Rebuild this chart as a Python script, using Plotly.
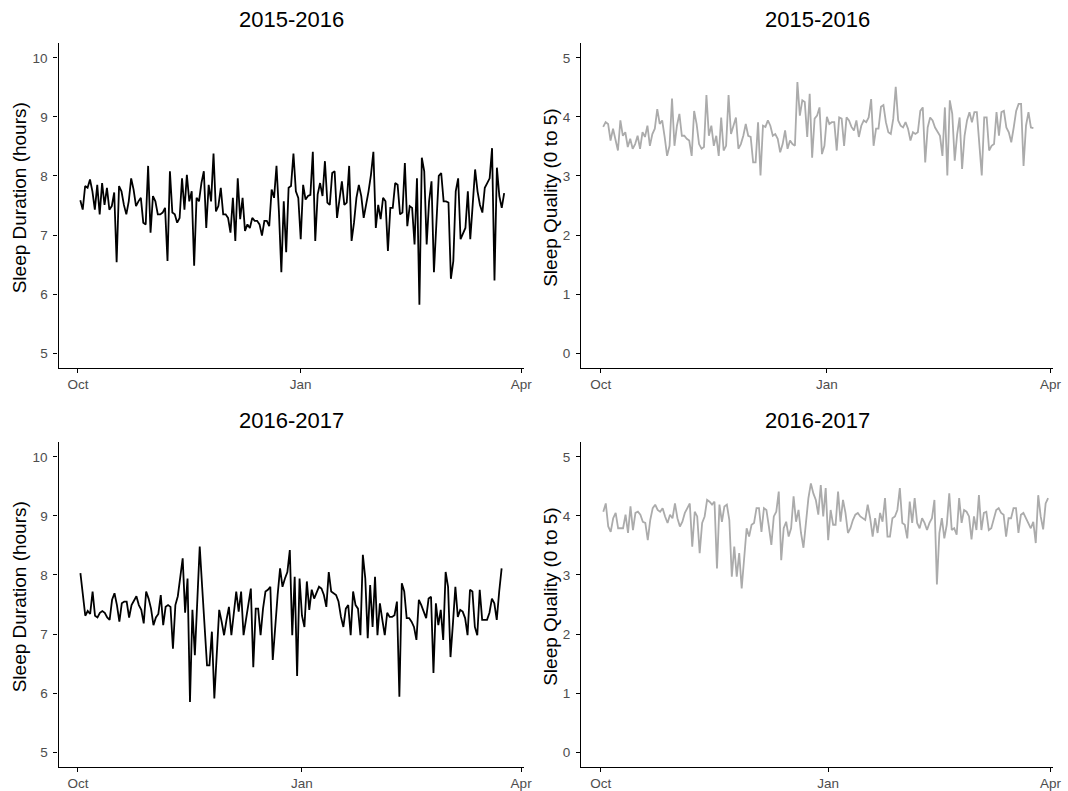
import pandas as pd
import plotly.graph_objects as go

# ---- data ----
season_titles = ["2015-2016", "2016-2017"]
season_starts = ["2015-10-02", "2016-10-02"]

duration_2015 = [
    7.59, 7.43, 7.83, 7.80, 7.94, 7.74, 7.43, 7.85, 7.35, 7.88,
    7.51, 7.80, 7.43, 7.49, 7.72, 6.54, 7.83, 7.74, 7.51, 7.35,
    7.57, 7.96, 7.77, 7.49, 7.57, 7.63, 7.21, 7.18, 8.17, 7.04,
    7.66, 7.57, 7.35, 7.35, 7.38, 7.46, 6.56, 8.08, 7.38, 7.35,
    7.21, 7.29, 7.96, 7.43, 8.02, 7.57, 7.74, 6.48, 7.63, 7.57,
    7.88, 8.08, 7.12, 7.85, 7.57, 8.38, 7.40, 7.49, 7.80, 7.35,
    7.35, 7.29, 7.04, 7.63, 6.90, 7.96, 7.27, 7.63, 7.07, 7.18,
    7.12, 7.29, 7.24, 7.24, 7.18, 6.99, 7.24, 7.24, 7.15, 7.77,
    7.63, 8.17, 7.40, 6.37, 7.57, 6.71, 7.80, 7.83, 8.38, 7.74,
    7.63, 6.93, 7.85, 7.60, 7.66,
    7.68, 8.41, 6.90, 7.69, 7.88, 7.66, 8.25, 7.55, 7.51, 8.05,
    8.08, 7.29, 7.57, 7.91, 7.51, 7.55, 8.17, 6.90, 7.21, 7.63,
    7.85, 7.66, 7.29, 7.51, 7.74, 8.02, 8.41, 7.12, 7.51, 7.27,
    7.63, 7.57, 6.73, 7.46, 7.46, 7.88, 7.85, 7.35, 7.38, 8.22,
    7.15, 7.49, 7.46, 6.84, 7.96, 5.82, 8.31, 8.08, 6.84, 7.57,
    7.91, 6.37, 7.18, 8.00, 8.05, 7.57, 7.57, 7.55, 6.26, 6.56,
    7.74, 7.96, 6.93, 7.04, 7.12, 7.74, 6.93, 7.51, 8.11, 7.74,
    7.51, 7.38, 7.80, 7.88, 7.96, 8.47, 6.23, 8.14, 7.66, 7.46,
    7.71,
]

quality_2015 = [
    3.83, 3.91, 3.88, 3.60, 3.80, 3.60, 3.43, 3.94, 3.68, 3.74,
    3.49, 3.63, 3.46, 3.54, 3.68, 3.46, 3.74, 3.66, 3.85, 3.51,
    3.71, 3.80, 4.13, 3.88, 3.94, 3.66, 3.34, 3.51, 4.31, 3.51,
    3.85, 4.05, 3.68, 3.68, 3.63, 3.60, 3.34, 4.10, 3.88, 3.54,
    3.46, 3.49, 4.37, 3.68, 3.85, 3.51, 3.68, 3.34, 3.99, 3.43,
    3.51, 4.37, 3.71, 3.85, 3.99, 3.46, 3.54, 3.68, 3.88, 3.68,
    3.66, 3.23, 3.23, 3.91, 3.01, 3.85, 3.83, 3.94, 3.85, 3.68,
    3.71, 3.63, 3.40, 3.54, 3.77, 3.46, 3.60, 3.54, 3.51, 4.59,
    4.02, 4.28, 4.25, 3.66, 4.39, 3.31, 3.97, 4.02, 4.16, 3.37,
    3.51,
    4.00, 3.88, 3.91, 3.91, 3.43, 3.99, 3.97, 3.51, 3.99, 3.94,
    3.83, 3.77, 3.94, 3.66, 3.85, 3.94, 3.91, 3.99, 4.30, 3.51,
    3.80, 3.80, 4.17, 4.20, 3.91, 3.74, 3.71, 3.97, 4.51, 3.94,
    3.85, 3.82, 3.91, 3.80, 3.60, 3.74, 3.71, 3.74, 4.10, 4.16,
    3.23, 3.82, 3.99, 3.94, 3.82, 3.74, 3.68, 3.34, 4.16, 3.01,
    4.28, 4.05, 3.26, 3.71, 3.99, 3.12, 3.68, 3.94, 4.08, 3.91,
    4.08, 4.08, 3.54, 3.01, 3.99, 3.99, 3.43, 3.51, 3.54, 4.08,
    3.68, 4.08, 4.10, 3.82, 3.74, 3.57, 3.82, 4.10, 4.22, 4.22,
    3.17, 3.85, 4.08, 3.82, 3.81,
]

duration_2016 = [
    8.03, 7.64, 7.31, 7.39, 7.34, 7.72, 7.31, 7.28, 7.36, 7.39,
    7.36, 7.28, 7.24, 7.58, 7.69, 7.49, 7.21, 7.52, 7.55, 7.55,
    7.28, 7.49, 7.58, 7.64, 7.49, 7.41, 7.18, 7.72, 7.60, 7.43,
    7.15, 7.28, 7.34, 7.66, 7.15, 7.46, 7.49, 7.46, 6.75, 7.49,
    7.64, 7.97, 8.28, 7.36, 7.94, 5.85, 7.41, 6.64, 7.69, 8.48,
    7.80, 7.07, 6.47, 6.47, 7.04, 5.91, 6.75, 7.41, 7.21, 6.98,
    7.24, 7.46, 6.98, 7.41, 7.72, 7.38, 7.72, 6.98, 7.24, 7.52,
    7.77, 6.44, 7.43, 7.43, 6.98, 7.43, 7.72, 7.75, 7.80, 6.56,
    7.18, 7.66, 8.11, 7.80, 7.94, 8.05, 8.42, 6.98, 7.97, 6.29,
    7.94, 7.31, 7.12, 7.89,
    7.41, 7.75, 7.60, 7.69, 7.80, 7.77, 7.66, 7.46, 8.05, 7.72,
    7.69, 7.66, 7.55, 7.29, 7.12, 7.43, 7.49, 6.98, 7.72, 7.49,
    7.43, 6.98, 8.34, 7.94, 6.93, 7.83, 7.12, 7.97, 6.98, 7.52,
    7.24, 6.98, 7.36, 7.29, 7.29, 7.32, 7.55, 5.94, 7.86, 7.72,
    7.27, 7.27, 7.21, 7.12, 6.90, 7.58, 7.49, 7.38, 7.27, 7.60,
    7.63, 6.34, 7.52, 7.15, 7.41, 6.90, 8.05, 7.80, 6.61, 7.18,
    7.80, 7.29, 7.41, 7.38, 7.27, 6.98, 7.75, 7.72, 7.12, 6.98,
    7.75, 7.24, 7.24, 7.24, 7.36, 7.60, 7.52, 7.24, 7.72, 8.11,
]

quality_2016 = [
    4.07, 4.21, 3.82, 3.73, 3.96, 4.05, 3.79, 3.79, 3.79, 4.02,
    3.71, 4.16, 3.76, 4.05, 4.07, 4.02, 3.90, 3.88, 3.59, 3.93,
    4.13, 4.19, 4.10, 4.07, 4.13, 3.99, 3.88, 4.02, 3.96, 4.21,
    3.96, 3.82, 3.90, 4.05, 4.13, 4.21, 3.48, 4.07, 3.99, 3.37,
    3.88, 3.99, 4.27, 4.24, 4.19, 4.24, 3.11, 4.19, 3.90, 4.16,
    4.19, 3.93, 2.97, 3.48, 2.97, 3.37, 2.77, 3.31, 3.79, 3.65,
    3.85, 3.88, 4.13, 4.13, 3.73, 4.13, 4.10, 3.82, 3.51, 3.99,
    4.07, 4.41, 3.25, 3.79, 3.90, 3.65, 3.79, 4.33, 3.90, 4.10,
    3.71, 3.46, 3.93, 4.30, 4.55, 4.38, 4.27, 4.02, 4.52, 3.99,
    4.47, 3.59,
    4.10, 3.85, 3.85, 4.41, 3.90, 4.27, 4.05, 3.71, 3.79, 3.93,
    4.02, 4.05, 3.99, 3.96, 3.93, 4.19, 3.96, 3.65, 3.96, 3.71,
    4.05, 3.90, 4.30, 3.65, 3.65, 3.96, 3.99, 4.10, 4.47, 3.88,
    3.85, 3.62, 4.24, 3.88, 4.30, 3.88, 3.79, 3.96, 3.88, 3.76,
    3.88, 3.96, 4.27, 2.84, 3.71, 3.96, 3.62, 3.85, 4.38, 3.76,
    3.79, 3.68, 4.30, 3.88, 4.10, 4.07, 3.99, 3.60, 3.99, 3.76,
    4.35, 3.76, 4.05, 4.07, 3.76, 3.79, 3.93, 4.10, 4.13, 4.05,
    4.02, 3.65, 3.96, 3.96, 4.13, 4.13, 3.71, 4.02, 4.05, 3.96,
    3.90, 3.79, 3.90, 3.54, 4.35, 3.99, 3.77, 4.21, 4.30,
]

month_tick_labels = ["Oct", "Jan", "Apr"]
duration_ticks = [5, 6, 7, 8, 9, 10]
quality_ticks = [0, 1, 2, 3, 4, 5]

# ---- figure ----
W, H = 1068, 791
FONT = "Liberation Sans, Arial, sans-serif"
DUR_COLOR = "#000000"
QUAL_COLOR = "#ABABAB"

fig = go.Figure()

# panel geometry in pixels
x_left = (59, 528)
x_right = (586, 1062)
y_top = (43, 368)
y_bot = (442, 767)


def px_x(p):
    return p / W


def px_y(p):
    return 1 - p / H


panels = [
    (0, 0, duration_2015, DUR_COLOR, duration_ticks, [4.75, 10.25], "Sleep Duration (hours)"),
    (0, 1, quality_2015, QUAL_COLOR, quality_ticks, [-0.25, 5.25], "Sleep Quality (0 to 5)"),
    (1, 0, duration_2016, DUR_COLOR, duration_ticks, [4.75, 10.25], "Sleep Duration (hours)"),
    (1, 1, quality_2016, QUAL_COLOR, quality_ticks, [-0.25, 5.25], "Sleep Quality (0 to 5)"),
]

for i, (row, col, vals, color, yticks, yrange, ytitle) in enumerate(panels):
    n = i + 1
    xa = "x" if n == 1 else f"x{n}"
    ya = "y" if n == 1 else f"y{n}"
    start_year = int(season_starts[row][:4])
    dates = pd.date_range(season_starts[row], periods=len(vals), freq="D")
    fig.add_trace(go.Scatter(
        x=dates, y=vals, mode="lines",
        line=dict(color=color, width=1.8),
        xaxis=xa, yaxis=ya, showlegend=False, hoverinfo="x+y",
    ))
    xs = x_left if col == 0 else x_right
    ys = y_top if row == 0 else y_bot
    tickvals = [f"{start_year}-10-01", f"{start_year + 1}-01-01", f"{start_year + 1}-04-01"]
    xrange = [f"{start_year}-09-23", f"{start_year + 1}-04-02"]
    axis_common = dict(
        showgrid=False, zeroline=False, showline=True, linecolor="black", linewidth=1.3,
        ticks="outside", ticklen=4, tickwidth=1.1, tickcolor="black",
        tickfont=dict(family=FONT, size=13.5, color="#4D4D4D"),
    )
    fig.layout[("xaxis" if n == 1 else f"xaxis{n}")] = dict(
        domain=[px_x(xs[0]), px_x(xs[1])], anchor=ya, range=xrange,
        type="date", tickvals=tickvals, ticktext=month_tick_labels, **axis_common,
    )
    fig.layout[("yaxis" if n == 1 else f"yaxis{n}")] = dict(
        domain=[px_y(ys[1]), px_y(ys[0])], anchor=xa, range=yrange,
        tickvals=yticks, ticktext=[str(t) for t in yticks], ticklabelstandoff=3, **axis_common,
    )
    fig.add_annotation(
        x=px_x((xs[0] + xs[1]) / 2), y=px_y(20 if row == 0 else 420),
        xref="paper", yref="paper", text=season_titles[row], showarrow=False,
        xanchor="center", yanchor="middle",
        font=dict(family=FONT, size=22, color="black"),
    )
    fig.add_annotation(
        x=px_x(20 if col == 0 else 555), y=px_y((ys[0] + ys[1]) / 2 - 8),
        xref="paper", yref="paper", text=ytitle, showarrow=False, textangle=-90,
        xanchor="center", yanchor="middle",
        font=dict(family=FONT, size=19, color="black"),
    )

fig.update_layout(
    width=W, height=H,
    margin=dict(l=0, r=0, t=0, b=0),
    paper_bgcolor="white", plot_bgcolor="white",
    showlegend=False,
)

fig.write_html(
    "out.html",
    config={"displayModeBar": False},
    post_script="document.body.style.margin='0px';",
)
